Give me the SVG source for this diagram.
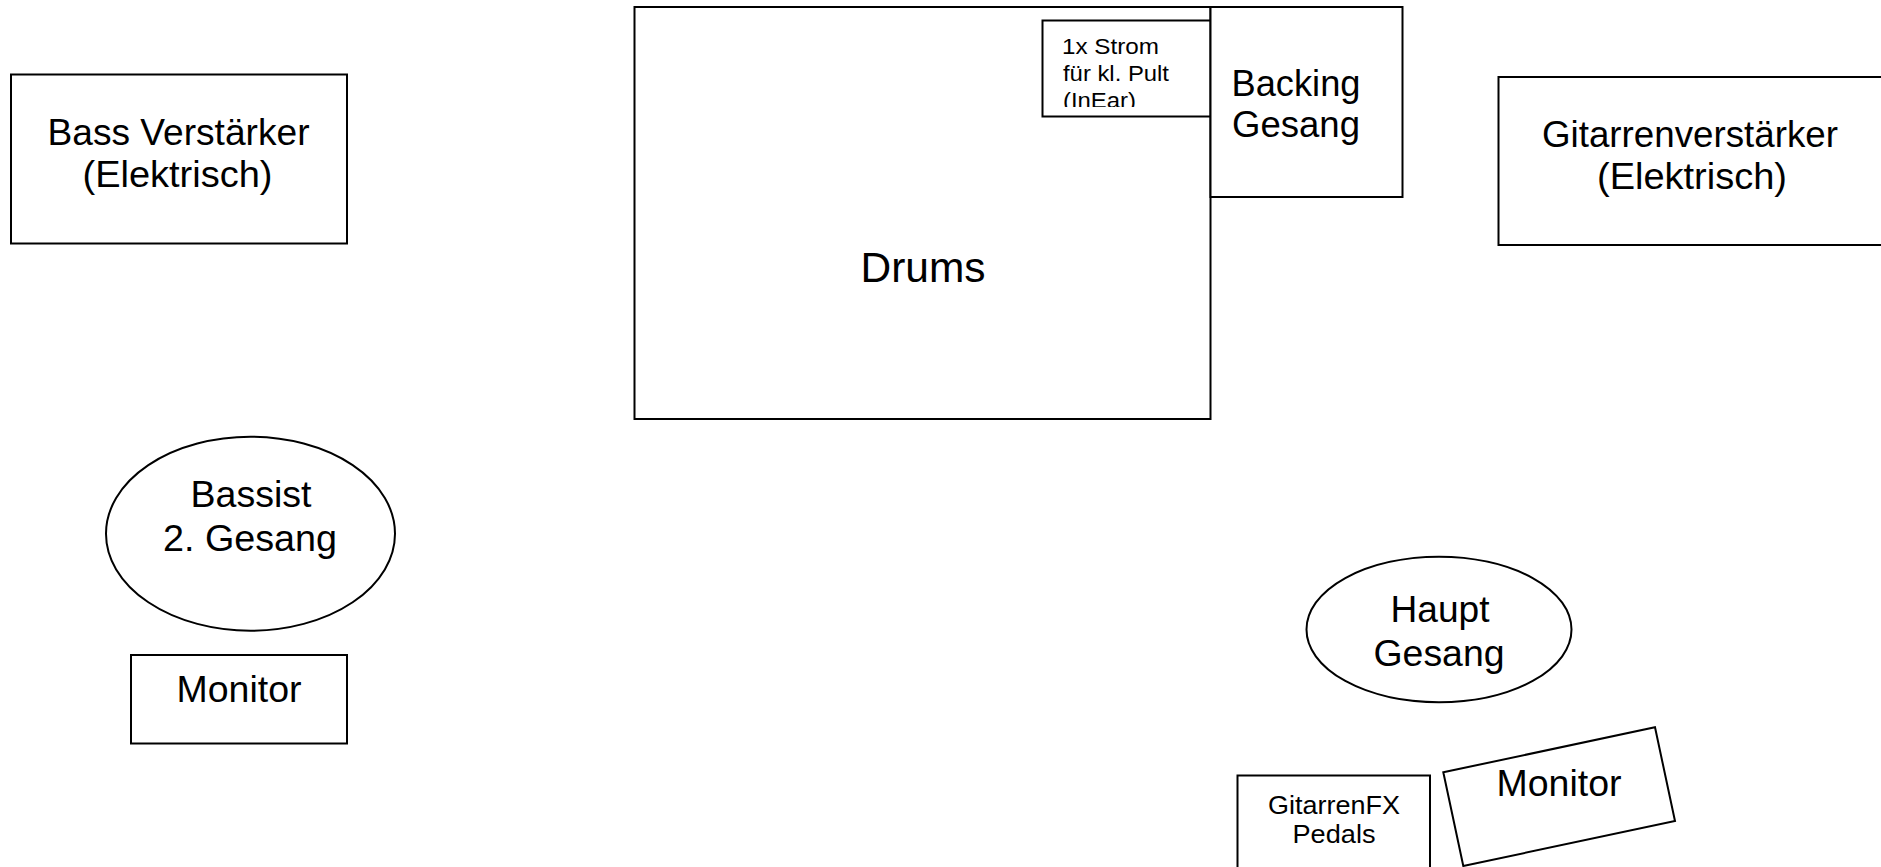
<svg xmlns="http://www.w3.org/2000/svg" width="1881" height="867" viewBox="0 0 1881 867">
<style>
.s{fill:#fff;stroke:#000;stroke-width:2}
.t{font-family:"Liberation Sans",Arial,sans-serif;fill:#000;text-anchor:middle}
.l{text-anchor:start}
</style>
<defs>
<clipPath id="clipStrom"><rect x="1043" y="21" width="166" height="86"/></clipPath>
</defs>
<rect width="1881" height="867" fill="#fff"/>
<g id="connectors"></g>
<g id="bass-amp">
<rect class="s" x="11" y="74.5" width="336" height="169"/>
<text class="t" font-size="36" x="178.5" y="145" textLength="262" lengthAdjust="spacingAndGlyphs">Bass Verstärker</text>
<text class="t" font-size="36" x="177.5" y="187" textLength="190" lengthAdjust="spacingAndGlyphs">(Elektrisch)</text>
</g>
<g id="drums">
<rect class="s" x="634.5" y="7" width="576" height="412"/>
<text class="t" font-size="42" x="923" y="282" textLength="125" lengthAdjust="spacingAndGlyphs">Drums</text>
</g>
<g id="strom">
<rect class="s" x="1042.5" y="20.5" width="168" height="96"/>
<g clip-path="url(#clipStrom)">
<text class="t l" font-size="22" x="1062" y="53.5" textLength="97" lengthAdjust="spacingAndGlyphs">1x Strom</text>
<text class="t l" font-size="22" x="1063" y="80.5" textLength="106" lengthAdjust="spacingAndGlyphs">für kl. Pult</text>
<text class="t l" font-size="22" x="1063" y="107.5" textLength="73" lengthAdjust="spacingAndGlyphs">(InEar)</text>
</g>
</g>
<g id="backing">
<rect class="s" x="1210.5" y="7" width="192" height="190"/>
<text class="t" font-size="36" x="1296" y="96" textLength="129" lengthAdjust="spacingAndGlyphs">Backing</text>
<text class="t" font-size="36" x="1296" y="137" textLength="128" lengthAdjust="spacingAndGlyphs">Gesang</text>
</g>
<g id="guitar-amp">
<rect class="s" x="1498.5" y="77" width="384" height="168"/>
<text class="t" font-size="36" x="1690" y="147" textLength="296" lengthAdjust="spacingAndGlyphs">Gitarrenverstärker</text>
<text class="t" font-size="36" x="1692" y="189" textLength="190" lengthAdjust="spacingAndGlyphs">(Elektrisch)</text>
</g>
<g id="bassist">
<ellipse class="s" cx="250.5" cy="533.7" rx="144.5" ry="97"/>
<text class="t" font-size="36" x="251" y="507" textLength="121" lengthAdjust="spacingAndGlyphs">Bassist</text>
<text class="t" font-size="36" x="250" y="551" textLength="174" lengthAdjust="spacingAndGlyphs">2. Gesang</text>
</g>
<g id="monitor-left">
<rect class="s" x="131" y="655" width="216" height="88.5"/>
<text class="t" font-size="36" x="239" y="702" textLength="125" lengthAdjust="spacingAndGlyphs">Monitor</text>
</g>
<g id="haupt">
<ellipse class="s" cx="1439" cy="629.5" rx="132.5" ry="72.8"/>
<text class="t" font-size="36" x="1440" y="622" textLength="99" lengthAdjust="spacingAndGlyphs">Haupt</text>
<text class="t" font-size="36" x="1439" y="666" textLength="131" lengthAdjust="spacingAndGlyphs">Gesang</text>
</g>
<g id="pedals">
<rect class="s" x="1237.5" y="775.5" width="192.5" height="100"/>
<text class="t" font-size="26" x="1334" y="814" textLength="132" lengthAdjust="spacingAndGlyphs">GitarrenFX</text>
<text class="t" font-size="26" x="1334" y="843" textLength="83" lengthAdjust="spacingAndGlyphs">Pedals</text>
</g>
<g id="monitor-right">
<polygon class="s" points="1443.3,772.3 1655,727.3 1675,821 1463.3,866"/>
<text class="t" font-size="36" x="1559" y="796" textLength="125" lengthAdjust="spacingAndGlyphs">Monitor</text>
</g>
</svg>
